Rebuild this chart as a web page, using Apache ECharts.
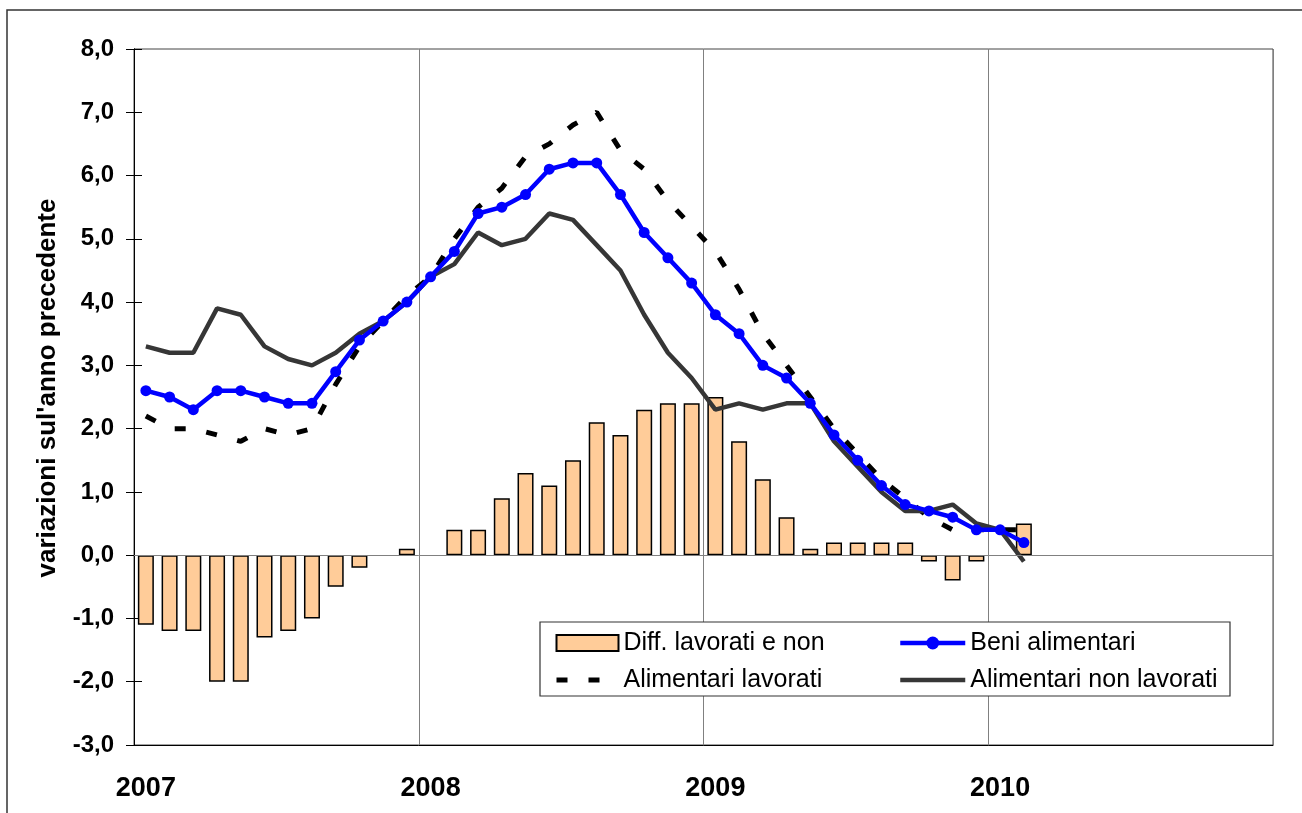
<!DOCTYPE html>
<html>
<head>
<meta charset="utf-8">
<script src="https://cdn.jsdelivr.net/npm/echarts@6/dist/echarts.min.js"></script>
<style>
html,body{margin:0;padding:0;background:#fff;}
#chart{width:1302px;height:813px;}
</style>
</head>
<body>
<div id="chart"></div>
<script>
// ---- data ----
const years = ['2007', '2008', '2009', '2010'];
const monthCodes = ['01','02','03','04','05','06','07','08','09','10','11','12'];
const categories = [];
years.forEach(y => monthCodes.forEach(m => categories.push(y + '-' + m)));

const seriesNames = ['Diff. lavorati e non', 'Beni alimentari', 'Alimentari lavorati', 'Alimentari non lavorati'];

// Diff. lavorati e non (bars)
const diffLavNon = [
  -1.1, -1.2, -1.2, -2.0, -2.0, -1.3, -1.2, -1.0, -0.5, -0.2, 0.0, 0.1,
   0.0,  0.4,  0.4,  0.9,  1.3,  1.1,  1.5,  2.1,  1.9,  2.3, 2.4, 2.4,
   2.5,  1.8,  1.2,  0.6,  0.1,  0.2,  0.2,  0.2,  0.2, -0.1, -0.4, -0.1,
   0.0,  0.5
];
// Beni alimentari
const beniAlimentari = [
  2.6, 2.5, 2.3, 2.6, 2.6, 2.5, 2.4, 2.4, 2.9, 3.4, 3.7, 4.0,
  4.4, 4.8, 5.4, 5.5, 5.7, 6.1, 6.2, 6.2, 5.7, 5.1, 4.7, 4.3,
  3.8, 3.5, 3.0, 2.8, 2.4, 1.9, 1.5, 1.1, 0.8, 0.7, 0.6, 0.4,
  0.4, 0.2
];
// Alimentari lavorati
const alimLavorati = [
  2.2, 2.0, 2.0, 1.9, 1.8, 2.0, 1.9, 2.0, 2.7, 3.3, 3.7, 4.1,
  4.4, 5.0, 5.5, 5.8, 6.3, 6.5, 6.8, 7.0, 6.4, 6.1, 5.6, 5.2,
  4.8, 4.2, 3.5, 3.0, 2.5, 2.0, 1.6, 1.2, 0.9, 0.6, 0.4, 0.4,
  0.4, 0.4
];
// Alimentari non lavorati
const alimNonLavorati = [
  3.3, 3.2, 3.2, 3.9, 3.8, 3.3, 3.1, 3.0, 3.2, 3.5, 3.7, 4.0,
  4.4, 4.6, 5.1, 4.9, 5.0, 5.4, 5.3, 4.9, 4.5, 3.8, 3.2, 2.8,
  2.3, 2.4, 2.3, 2.4, 2.4, 1.8, 1.4, 1.0, 0.7, 0.7, 0.8, 0.5,
  0.4, -0.1
];

const yMin = -3, yMax = 8, yStep = 1;

// ---- chart ----
const FONT = '"Liberation Sans", Arial, Helvetica, sans-serif';
const chart = echarts.init(document.getElementById('chart'), null, {renderer: 'canvas'});

const fmtY = v => v.toFixed(1).replace('.', ',');
// zero-height bars are drawn without an outline (as in the original)
const barData = diffLavNon.map(v => v === 0 ? {value: v, itemStyle: {borderWidth: 0}} : v);

const legendText = {fontFamily: FONT, fontSize: 25, color: '#000', lineHeight: 28};

const option = {
  animation: false,
  backgroundColor: '#fff',
  textStyle: {fontFamily: FONT},
  grid: {
    left: 134, right: 29, top: 49, bottom: 68,
    show: true, borderColor: '#444', borderWidth: 1, backgroundColor: 'transparent'
  },
  xAxis: {
    type: 'category',
    data: categories,
    boundaryGap: true,
    axisLine: {show: true, onZero: false, lineStyle: {color: '#000', width: 1}},
    axisTick: {show: false, interval: 11},
    axisLabel: {
      interval: 11,
      formatter: v => v.slice(0, 4),
      fontFamily: FONT, fontSize: 27, fontWeight: 'bold', color: '#000',
      margin: 30
    },
    splitLine: {show: true, interval: 11, lineStyle: {color: '#808080', width: 1}}
  },
  yAxis: [
    {
      type: 'value', min: yMin, max: yMax, interval: yStep,
      name: "variazioni sul'anno precedente",
      nameLocation: 'middle', nameRotate: 90, nameGap: 73,
      nameTextStyle: {fontFamily: FONT, fontSize: 26, fontWeight: 'bold', color: '#000', padding: [0, 0, 0, 18]},
      axisLine: {show: true, lineStyle: {color: '#000', width: 1}},
      axisTick: {show: true, inside: false, length: 8, lineStyle: {color: '#000'}},
      axisLabel: {formatter: fmtY, fontFamily: FONT, fontSize: 24, fontWeight: 'bold', color: '#000', margin: 20},
      splitLine: {show: false}
    },
    {
      type: 'value', min: yMin, max: yMax, interval: yStep, position: 'left',
      axisLine: {show: true, lineStyle: {color: '#000', width: 1}},
      axisTick: {show: true, inside: true, length: 8, lineStyle: {color: '#000'}},
      axisLabel: {show: false},
      splitLine: {show: false}
    }
  ],
  legend: [
    {
      orient: 'vertical', left: 554, top: 629, padding: 0,
      itemWidth: 62, itemHeight: 16, itemGap: 9,
      textStyle: legendText,
      lineStyle: {width: 'inherit'},
      data: [
        {name: seriesNames[0], icon: 'rect'},
        {name: seriesNames[2], itemStyle: {opacity: 0}}
      ],
      z: 5
    },
    {
      orient: 'vertical', left: 898, top: 629, padding: 0,
      itemWidth: 65, itemHeight: 16, itemGap: 9,
      textStyle: legendText,
      lineStyle: {width: 'inherit'},
      data: [
        {name: seriesNames[1]},
        {name: seriesNames[3], itemStyle: {opacity: 0}}
      ],
      z: 5
    }
  ],
  graphic: [
    {
      type: 'rect', z: 3, silent: true,
      shape: {x: 540, y: 622, width: 690, height: 74},
      style: {fill: '#fff', stroke: '#333', lineWidth: 1.2}
    },
    {
      type: 'rect', z: 0, silent: true,
      shape: {x: 7, y: 10, width: 1400, height: 900},
      style: {fill: 'none', stroke: '#333', lineWidth: 1.5}
    }
  ],
  series: [
    {
      name: seriesNames[0], type: 'bar', data: barData,
      barWidth: 16,
      itemStyle: {color: '#FFCC99', borderColor: '#000', borderWidth: 1.5},
      markLine: {
        silent: true, symbol: ['none', 'none'], label: {show: false},
        lineStyle: {color: '#808080', type: 'solid', width: 1},
        data: [{yAxis: 0}]
      }
    },
    {
      name: seriesNames[2], type: 'line', data: alimLavorati,
      symbol: 'none', showSymbol: false,
      lineStyle: {color: '#000', width: 5, type: [11, 21]},
      itemStyle: {color: '#000'}
    },
    {
      name: seriesNames[3], type: 'line', data: alimNonLavorati,
      symbol: 'none', showSymbol: false,
      lineStyle: {color: '#363636', width: 4.5},
      itemStyle: {color: '#363636'}
    },
    {
      name: seriesNames[1], type: 'line', data: beniAlimentari,
      symbol: 'circle', symbolSize: 11, showSymbol: true,
      lineStyle: {color: '#0000FF', width: 4.5},
      itemStyle: {color: '#0000FF'}
    }
  ]
};
chart.setOption(option);
</script>
</body>
</html>
